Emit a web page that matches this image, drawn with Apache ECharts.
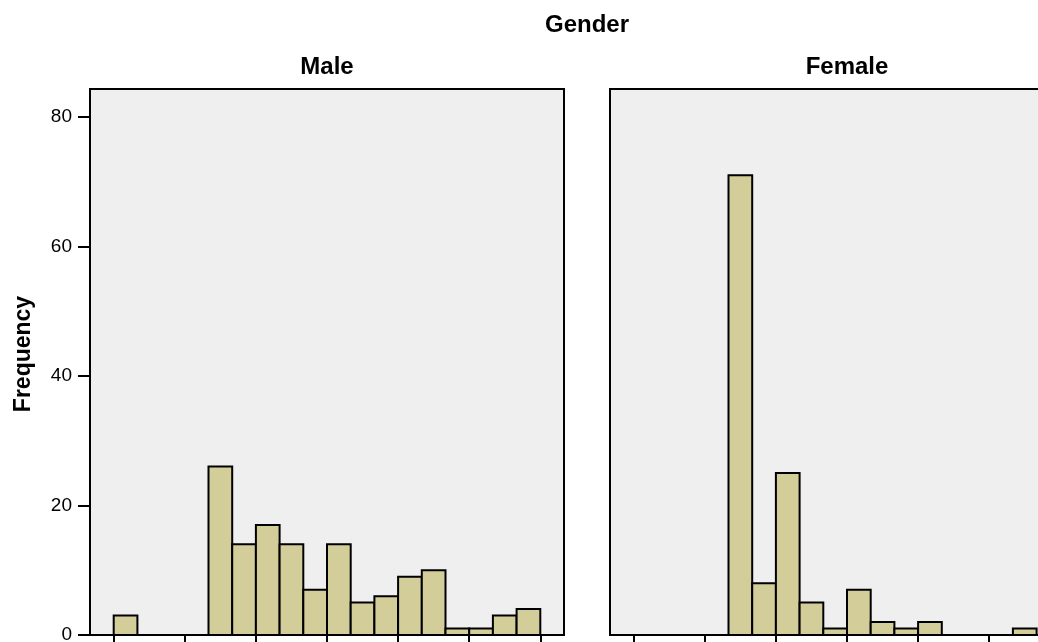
<!DOCTYPE html>
<html>
<head>
<meta charset="utf-8">
<title>Gender histogram</title>
<script src="https://cdn.jsdelivr.net/npm/echarts@6/dist/echarts.min.js"></script>
<style>
  html, body { margin: 0; padding: 0; background: #ffffff; }
  #chart { width: 1038px; height: 642px; }
</style>
</head>
<body>
<div id="chart"></div>
<script>
// Panel titles
const panels = ['Male', 'Female'];

// Frequency per bin (bins of equal width, indexed 0..17)
const maleCounts   = [3, 0, 0, 0, 26, 14, 17, 14, 7, 14, 5, 6, 9, 10, 1, 1, 3, 4];
const femaleCounts = [0, 0, 0, 0, 71, 8, 25, 5, 1, 7, 2, 1, 2, 0, 0, 0, 1, 0];

// Axis marks
const xTickValues = [0, 3, 6, 9, 12, 15, 18];
const yTickValues = [0, 20, 40, 60, 80];

const BAR_FILL = '#d3ce99';
const PANEL_BG = '#efefef';
const FONT = '"Liberation Sans", Arial, sans-serif';

function binData(counts) {
  return counts.map((v, i) => [i, v]);
}

function renderBin(params, api) {
  const i = api.value(0);
  const v = api.value(1);
  if (!v) return null;
  const p0 = api.coord([i, 0]);
  const p1 = api.coord([i + 1, v]);
  return {
    type: 'rect',
    shape: { x: p0[0], y: p1[1], width: p1[0] - p0[0], height: p0[1] - p1[1] },
    style: { fill: BAR_FILL, stroke: '#000000', lineWidth: 2 }
  };
}

const gridTop = 89, gridHeight = 546, gridWidth = 474;
const gridLefts = [90, 610];

const option = {
  animation: false,
  backgroundColor: '#ffffff',
  grid: gridLefts.map(l => ({
    left: l, top: gridTop, width: gridWidth, height: gridHeight,
    show: true, backgroundColor: PANEL_BG, borderColor: '#000000', borderWidth: 2,
    containLabel: false, outerBoundsMode: 'none'
  })),
  xAxis: gridLefts.map((l, k) => ({
    type: 'value', gridIndex: k, min: -1, max: 19,
    axisLine: { show: true, onZero: false, lineStyle: { color: '#000000', width: 2 } },
    axisTick: { show: true, customValues: xTickValues, length: 12, inside: false,
                lineStyle: { color: '#000000', width: 2 } },
    axisLabel: { show: false },
    splitLine: { show: false }
  })),
  yAxis: gridLefts.map((l, k) => ({
    type: 'value', gridIndex: k, min: 0, max: 84.3, position: 'left',
    axisLine: { show: false, onZero: false },
    axisTick: { show: k === 0, customValues: yTickValues, length: 12,
                lineStyle: { color: '#000000', width: 2 } },
    axisLabel: { show: k === 0, customValues: yTickValues, fontSize: 19, color: '#000000',
                 fontFamily: FONT, margin: 18 },
    splitLine: { show: false }
  })),
  series: [
    { type: 'custom', name: panels[0], xAxisIndex: 0, yAxisIndex: 0,
      renderItem: renderBin, data: binData(maleCounts), clip: true },
    { type: 'custom', name: panels[1], xAxisIndex: 1, yAxisIndex: 1,
      renderItem: renderBin, data: binData(femaleCounts), clip: true }
  ],
  graphic: [
    { type: 'text', x: 587, y: 25, style: { text: 'Gender', fill: '#000000',
      font: 'bold 24px ' + FONT, textAlign: 'center', textVerticalAlign: 'middle' } },
    { type: 'text', x: gridLefts[0] + gridWidth / 2, y: 67, style: { text: panels[0], fill: '#000000',
      font: 'bold 24px ' + FONT, textAlign: 'center', textVerticalAlign: 'middle' } },
    { type: 'text', x: gridLefts[1] + gridWidth / 2, y: 67, style: { text: panels[1], fill: '#000000',
      font: 'bold 24px ' + FONT, textAlign: 'center', textVerticalAlign: 'middle' } },
    { type: 'text', x: 24, y: 354, rotation: Math.PI / 2, style: { text: 'Frequency', fill: '#000000',
      font: 'bold 23px ' + FONT, textAlign: 'center', textVerticalAlign: 'middle' } }
  ]
};

const chart = echarts.init(document.getElementById('chart'), null, { renderer: 'canvas' });
chart.setOption(option);
</script>
</body>
</html>
